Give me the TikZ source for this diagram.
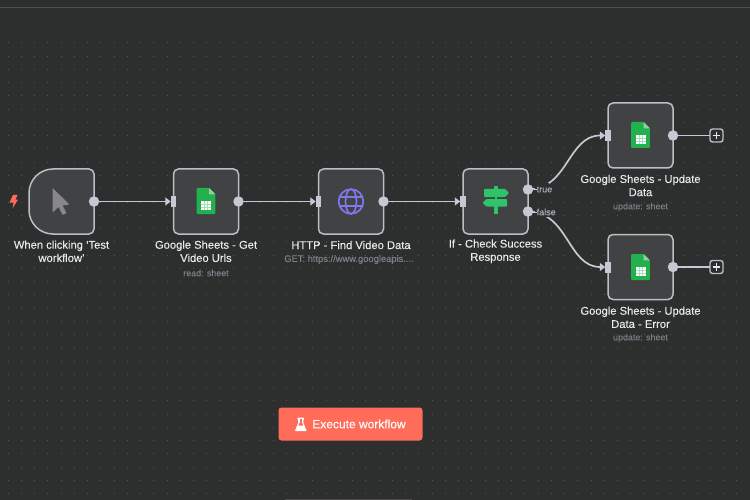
\documentclass[tikz,border=0pt]{standalone}
\usepackage{fontspec}
\setmainfont{Liberation Sans}[FakeBold=0.12]
\usetikzlibrary{arrows.meta,calc}
\definecolor{bg}{HTML}{2D2E2E}
\definecolor{dotc}{HTML}{565656}
\definecolor{linec}{HTML}{4E4E4E}
\definecolor{nodefill}{HTML}{414244}
\definecolor{edgec}{HTML}{BCBEC6}
\definecolor{wire}{HTML}{C6C8D3}
\definecolor{labelc}{HTML}{E8E9EE}
\definecolor{subc}{HTML}{7E7F88}
\definecolor{sheetg}{HTML}{23B14D}
\definecolor{foldg}{HTML}{8ED1A0}
\definecolor{tablel}{HTML}{A5E0B8}
\definecolor{signg}{HTML}{2DC46A}
\definecolor{globec}{HTML}{7F78E8}
\definecolor{coral}{HTML}{FF6D5A}
\definecolor{cursorc}{HTML}{88888B}
\tikzset{
  x=1pt,y=-1pt,
  nodebox/.style={draw=edgec,line width=1.5pt,fill=nodefill,rounded corners=5pt,minimum width=65pt,minimum height=65pt,inner sep=0pt,outer sep=0pt},
  outdot/.style={circle,fill=wire,draw=none,minimum size=10.5pt,inner sep=0pt,outer sep=0pt},
  inport/.style={rectangle,fill=wire,draw=none,minimum width=5.5pt,minimum height=11pt,inner sep=0pt,outer sep=0pt},
  wireline/.style={draw=wire,line width=1.7pt,-{Triangle[length=5.5pt,width=8pt]}},
  stubline/.style={draw=wire,line width=1.7pt},
  plusbox/.style={draw=edgec,line width=1.4pt,fill=bg,rounded corners=2.5pt,minimum size=13pt,inner sep=0pt,outer sep=0pt},
  title/.style={align=center,text=labelc,font=\fontsize{11.2}{13.2}\selectfont,inner sep=0pt},
  subtitle/.style={text=subc,font=\fontsize{8.9}{10}\selectfont,inner sep=0pt},
  portlabel/.style={text=subc!55!labelc,font=\fontsize{9}{10}\selectfont,inner sep=0pt,anchor=west},
}
\newcommand{\sheeticon}[1]{%
  \begin{scope}[shift={(#1)}]
    \fill[sheetg,rounded corners=1pt] (-9.3,-13) -- (3,-13) -- (9.3,-6.7) -- (9.3,13) -- (-9.3,13) -- cycle;
    \fill[foldg] (3,-13) -- (9.3,-6.7) -- (3,-6.7) -- cycle;
    \fill[white] (-5,0.3) rectangle (5,9);
    \draw[tablel,line width=.45pt] (-5,3.2) -- (5,3.2) (-5,6.1) -- (5,6.1) (-1.6,0.3) -- (-1.6,9) (1.6,0.3) -- (1.6,9);
  \end{scope}}
\begin{document}
\begin{tikzpicture}
\useasboundingbox (0,0) rectangle (750,500);
\fill[bg] (0,0) rectangle (750,500);
% dot grid
\foreach \i in {0,...,55}{\foreach \j in {0,...,34}{
  \fill[dotc] ({8+13.25*\i-.5},{43+13.25*\j-.5}) rectangle ++(1,1);
}}
\draw[draw=linec,line width=.8pt] (0,7.2) -- (750,7.2);
\draw[draw=linec,line width=1pt] (285,499.5) -- (412,499.5);

% node boxes
\node[nodebox,draw=none,fill=none] (trig) at (61.5,201.5) {};
\draw[draw=edgec,line width=1.5pt,fill=nodefill]
  ($(trig.north west)+(24,0)$) -- ($(trig.north east)+(-5,0)$) arc[start angle=-90,end angle=0,radius=5pt,y radius=-5pt]
  -- ($(trig.south east)+(0,-5)$) arc[start angle=0,end angle=90,radius=5pt,y radius=-5pt]
  -- ($(trig.south west)+(24,0)$) arc[start angle=90,end angle=180,radius=24pt,y radius=-24pt]
  -- ($(trig.north west)+(0,24)$) arc[start angle=180,end angle=270,radius=24pt,y radius=-24pt] -- cycle;
\node[nodebox] (get) at (206,201.5) {};
\node[nodebox] (http) at (351,201.5) {};
\node[nodebox] (ifn) at (495.5,201.5) {};
\node[nodebox] (upd) at (640.5,135.5) {};
\node[nodebox] (err) at (640.5,267) {};

% ports
\node[outdot] (o0) at (trig.east) {};
\node[inport] (i1) at (get.west) {};
\node[outdot] (o1) at (get.east) {};
\node[inport] (i2) at (http.west) {};
\node[outdot] (o2) at (http.east) {};
\node[inport] (i3) at (ifn.west) {};
\node[outdot] (t3) at (528,189.5) {};
\node[outdot] (f3) at (528,211.5) {};
\node[inport] (i4) at (upd.west) {};
\node[outdot] (o4) at (upd.east) {};
\node[inport] (i5) at (err.west) {};
\node[outdot] (o5) at (err.east) {};
\node[plusbox] (p4) at (716.5,135.5) {};
\node[plusbox] (p5) at (716.5,267) {};
\draw[draw=labelc,line width=1.1pt] (p4.center) +(-3.8,0) -- +(3.8,0) (p4.center) +(0,-3.8) -- +(0,3.8);
\draw[draw=labelc,line width=1.1pt] (p5.center) +(-3.8,0) -- +(3.8,0) (p5.center) +(0,-3.8) -- +(0,3.8);

% connectors
\draw[wireline] (o0) -- (i1);
\draw[wireline] (o1) -- (i2);
\draw[wireline] (o2) -- (i3);
\draw[wireline] (t3.center) .. controls +(40,0) and +(-40,0) .. (i4);
\draw[wireline] (f3.center) .. controls +(40,0) and +(-40,0) .. (i5);
\draw[stubline] (o4) -- (p4);
\draw[stubline] (o5) -- (p5);

% port labels
\fill[bg] (534.5,183.5) rectangle (549,195);
\fill[bg] (534.5,206) rectangle (552,217);
\draw[stubline,line width=1pt] (533,189.5) -- (536.5,189.5) (533,212) -- (536.5,212);
\node[portlabel] (lt) at (536.5,189.5) {true};
\node[portlabel] (lf) at (536.5,212) {false};

% titles
\node[title] (tt0) at (61.5,251.3) {When clicking ‘Test\\workflow’};
\node[title] (tt1) at (206,251.3) {Google Sheets - Get\\Video Urls};
\node[subtitle] (st1) at (206,273) {read: sheet};
\node[title] (tt2) at (351,245) {HTTP - Find Video Data};
\node[subtitle,font=\fontsize{9.35}{10}\selectfont] (st2) at (349,259.5) {GET: https://www.googleapis....};
\node[title] (tt3) at (495.5,251.3) {If - Check Success\\Response};
\node[title] (tt4) at (640.5,185.5) {Google Sheets - Update\\Data};
\node[subtitle] (st4) at (640.5,207) {update: sheet};
\node[title] (tt5) at (640.5,317.3) {Google Sheets - Update\\Data - Error};
\node[subtitle] (st5) at (640.5,338) {update: sheet};

% icons
\fill[cursorc,rounded corners=.6pt] (52.5,188) -- (69.5,204.5) -- (62.5,205.5) -- (66.5,213) -- (62.5,215) -- (58.5,207) -- (52.5,212.5) -- cycle;
\fill[coral] (13,195) -- (17.5,195) -- (15.5,199.5) -- (18,199.5) -- (12.5,208.5) -- (13.5,202.5) -- (9.5,202.5) -- cycle;
\sheeticon{206,201}
\sheeticon{640.5,135}
\sheeticon{640.5,267}
% globe
\begin{scope}[shift={(351,201.5)},draw=globec,line width=1.7pt]
  \draw (0,0) circle[radius=12.3pt];
  \draw (0,0) ellipse[x radius=5.5pt,y radius=12.3pt];
  \draw (-11.3,-4.3) -- (11.3,-4.3) (-11.3,4.3) -- (11.3,4.3);
\end{scope}
% signpost
\begin{scope}[shift={(496,201)}]
  \fill[signg] (-2,-15) rectangle (2,-10);
  \fill[signg] (-1.2,-5) rectangle (1.2,-1);
  \fill[signg] (-2,5) rectangle (2,13);
  \fill[signg,rounded corners=.8pt] (-12,-12) -- (9,-12) -- (13,-8) -- (9,-4) -- (-12,-4) -- cycle;
  \fill[signg,rounded corners=.8pt] (11,-2) -- (-9.5,-2) -- (-13.5,1.7) -- (-9.5,5.5) -- (11,5.5) -- cycle;
\end{scope}

% button
\node[rectangle,fill=coral,rounded corners=3pt,minimum width=144pt,minimum height=33pt,inner sep=0pt,text=white,font=\fontsize{12}{14}\selectfont] (exec) at (350.5,424) {\hspace{17pt}Execute workflow};
\begin{scope}[shift={(300.8,424.5)}]
  \fill[white,rounded corners=.8pt] (-3.4,-6.8) -- (3.4,-6.8) -- (3.4,-5.4) -- (2.6,-5.4) -- (2.6,-1.5) -- (6,6.5) -- (-6,6.5) -- (-2.6,-1.5) -- (-2.6,-5.4) -- (-3.4,-5.4) -- cycle;
  \fill[coral] (-1.2,-5.4) rectangle (1.2,-1.8);
  \fill[coral] (-1.2,-2) -- (1.2,-2) -- (2.4,1) -- (-2.4,1) -- cycle;
\end{scope}
\end{tikzpicture}
\end{document}
